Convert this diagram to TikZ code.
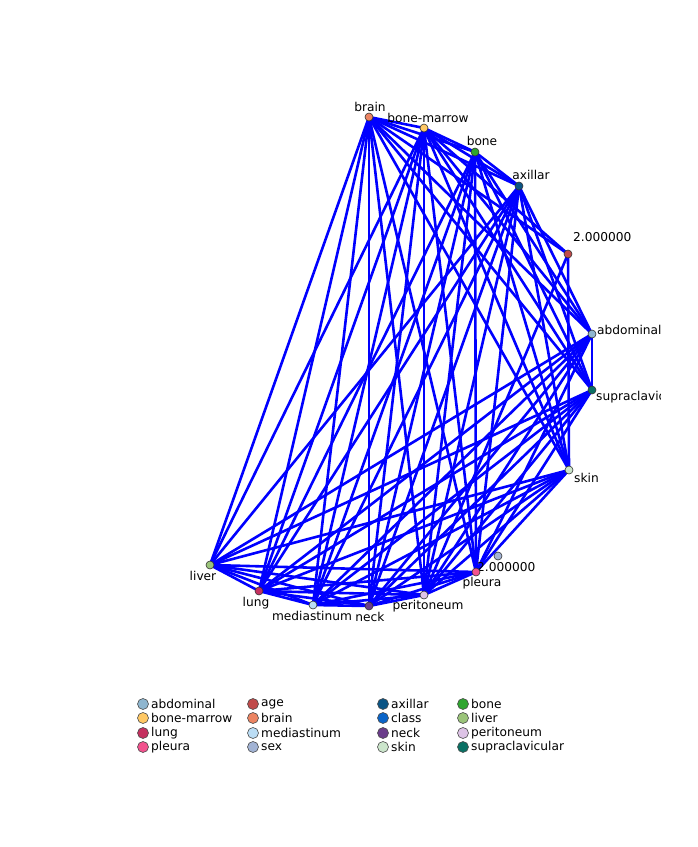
\documentclass[tikz,border=0pt]{standalone}
\usepackage{fontspec}
\setmainfont{DejaVu Sans}
\usetikzlibrary{backgrounds}
\definecolor{cAbdominal}{HTML}{8FB6CF}\definecolor{cAge}{HTML}{C04A4A}\definecolor{cAxillar}{HTML}{0B5585}
\definecolor{cBone}{HTML}{2FA52F}\definecolor{cMarrow}{HTML}{FFC864}\definecolor{cBrain}{HTML}{EC8462}
\definecolor{cClass}{HTML}{0A64C8}\definecolor{cLiver}{HTML}{9BC47A}\definecolor{cLung}{HTML}{C4305F}
\definecolor{cMedias}{HTML}{BBDDF5}\definecolor{cNeck}{HTML}{6A3C8A}\definecolor{cPerit}{HTML}{DDC3E6}
\definecolor{cPleura}{HTML}{F2528E}\definecolor{cSex}{HTML}{A2B3D4}\definecolor{cSkin}{HTML}{CBE5CB}
\definecolor{cSupra}{HTML}{0A7064}

\begin{document}
\begin{tikzpicture}[x=1pt,y=-1pt,every node/.style={font=\fontsize{12.2}{14}\selectfont,inner sep=0pt},
 vtx/.style={circle,draw=black!80,line width=.6pt,minimum size=8pt},
 key/.style={circle,draw=black!70,line width=.6pt,minimum size=11pt},
 lnk/.style={blue,line width=2.6pt}]
\useasboundingbox (0,0) rectangle (698,847);
% labels (the panel cuts them at its right side)
\begin{scope}
\clip (0,0) rectangle (660,847);
\node (lBrain) at (370,107){brain};\node (lMarrow) at (428,118){bone-marrow};\node (lBone) at (482,141){bone};
\node (lAxillar) at (531,175){axillar};\node[anchor=west] (lAge) at (573,237){2.000000};
\node[anchor=west] (lAbdominal) at (597,330){abdominal};\node[anchor=west] (lSupra) at (596,397){supraclavicular};
\node[anchor=west] (lSkin) at (574,478){skin};\node[anchor=west] (lSex) at (477,567){2.000000};
\node (lPleura) at (482,583){pleura};\node (lPerit) at (428,606){peritoneum};\node (lNeck) at (370,617){neck};
\node (lMedias) at (312,616){mediastinum};\node (lLung) at (256,603){lung};\node (lLiver) at (203,576){liver};
\end{scope}
% vertices
\node[vtx,fill=cBrain] (brain) at (369,117){};\node[vtx,fill=cMarrow] (marrow) at (424,128){};
\node[vtx,fill=cBone] (bone) at (475,152){};\node[vtx,fill=cAxillar] (axillar) at (519,186){};
\node[vtx,fill=cAge] (age) at (568,254){};\node[vtx,fill=cAbdominal] (abdominal) at (592,334){};
\node[vtx,fill=cSupra] (supra) at (592,390){};\node[vtx,fill=cSkin] (skin) at (569,470){};
\node[vtx,fill=cSex] (sex) at (498,556){};\node[vtx,fill=cPleura] (pleura) at (476,572){};
\node[vtx,fill=cPerit] (perit) at (424,595){};\node[vtx,fill=cNeck] (neck) at (369,606){};
\node[vtx,fill=cMedias] (medias) at (313,605){};\node[vtx,fill=cLung] (lung) at (259,591){};
\node[vtx,fill=cLiver] (liver) at (210,565){};
% links
\begin{pgfonlayer}{background}
\foreach \a/\b in {brain/marrow,brain/bone,brain/axillar,marrow/bone,marrow/axillar,bone/axillar,
 brain/age,marrow/age,age/skin,age/perit,abdominal/supra,
 bone/lung,bone/medias,bone/neck,bone/perit,bone/pleura}
 \draw[lnk] (\a.center)--(\b.center);
\foreach \a in {brain,marrow,bone,axillar}{\foreach \b in {abdominal,supra,skin}{\draw[lnk] (\a.center)--(\b.center);}}
\foreach \a in {brain,marrow,axillar,abdominal,supra,skin}{\foreach \b in {liver,lung,medias,neck,perit,pleura}{\draw[lnk] (\a.center)--(\b.center);}}
\foreach \a/\b in {liver/lung,liver/medias,liver/neck,liver/perit,liver/pleura,lung/medias,lung/neck,lung/perit,lung/pleura,
 medias/neck,medias/perit,medias/pleura,neck/perit,neck/pleura,perit/pleura}
 \draw[lnk] (\a.center)--(\b.center);
\end{pgfonlayer}
% legend
\foreach \x/\y/\t/\c [count=\i] in {143/704/abdominal/cAbdominal,253/704/age/cAge,383/704/axillar/cAxillar,463/704/bone/cBone,
 143/718/bone-marrow/cMarrow,253/718/brain/cBrain,383/718/class/cClass,463/718/liver/cLiver,
 143/733/lung/cLung,253/733/mediastinum/cMedias,383/733/neck/cNeck,463/733/peritoneum/cPerit,
 143/747/pleura/cPleura,253/747/sex/cSex,383/747/skin/cSkin,463/747/supraclavicular/cSupra}
 {\node[key,fill=\c] (key\i) at (\x,\y){};\node[anchor=west] (txt\i) at (\x+8,\y){\t};}
\end{tikzpicture}
\end{document}
